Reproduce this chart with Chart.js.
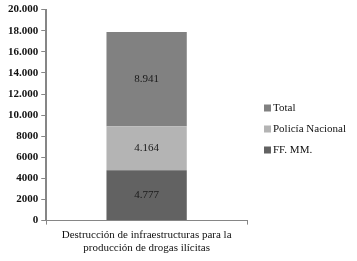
<!DOCTYPE html>
<html>
<head>
<meta charset="utf-8">
<script src="https://cdn.jsdelivr.net/npm/chart.js@4/dist/chart.umd.min.js"></script>
<style>
  html, body { margin: 0; padding: 0; background: #fff; }
  #wrap { width: 357px; height: 261px; }
</style>
</head>
<body>
<div id="wrap"><canvas id="chart" width="357" height="261"></canvas></div>
<script>
const categories = [["Destrucción de infraestructuras para la", "producción de drogas ilícitas"]];
const ffmm = [4777];
const policia = [4164];
const total = [8941];
const yTicks = [0, 2000, 4000, 6000, 8000, 10000, 12000, 14000, 16000, 18000, 20000];

const serif = "'Liberation Serif', 'DejaVu Serif', serif";

// labels inside each stacked segment
const segmentLabels = {
    id: 'segmentLabels',
    afterDatasetsDraw(chart) {
        const ctx = chart.ctx;
        ctx.save();
        ctx.font = "11px " + serif;
        ctx.fillStyle = "#1a1a1a";
        ctx.textAlign = "center";
        ctx.textBaseline = "middle";
        chart.data.datasets.forEach((ds, i) => {
            chart.getDatasetMeta(i).data.forEach((bar, j) => {
                const v = ds.data[j];
                const y = (bar.y + bar.base) / 2;
                ctx.fillText(v.toLocaleString('de-DE'), bar.x, y);
            });
        });
        ctx.restore();
    }
};

// legend on the right, top item = last dataset
const sideLegend = {
    id: 'sideLegend',
    afterDraw(chart) {
        const ctx = chart.ctx;
        const dsets = chart.data.datasets.slice().reverse();
        const x = 264, step = 21;
        let y = 108;
        ctx.save();
        ctx.font = "11px " + serif;
        ctx.textBaseline = "middle";
        ctx.textAlign = "left";
        dsets.forEach(ds => {
            ctx.fillStyle = ds.backgroundColor;
            ctx.fillRect(x, y - 3.5, 7, 7);
            ctx.fillStyle = "#111";
            ctx.fillText(ds.label, x + 9, y);
            y += step;
        });
        ctx.restore();
    }
};

new Chart(document.getElementById('chart').getContext('2d'), {
    type: 'bar',
    data: {
        labels: categories,
        datasets: [
            { label: 'FF. MM.', data: ffmm, backgroundColor: '#626262' },
            { label: 'Policía Nacional', data: policia, backgroundColor: '#b4b4b4' },
            { label: 'Total', data: total, backgroundColor: '#818181' }
        ]
    },
    options: {
        responsive: false,
        animation: false,
        layout: { padding: { top: 6, left: 5, right: 110, bottom: 2 } },
        datasets: { bar: { categoryPercentage: 1, barPercentage: 0.4 } },
        plugins: {
            tooltip: { enabled: false },
            legend: { display: false }
        },
        scales: {
            x: {
                stacked: true,
                grid: { display: true, drawOnChartArea: false, offset: true, tickLength: 4, color: '#868686' },
                border: { color: '#868686', width: 1 },
                ticks: { color: '#111', font: { family: serif, size: 11 }, padding: 4 }
            },
            y: {
                stacked: true,
                min: 0,
                max: 20000,
                afterBuildTicks(axis) { axis.ticks = yTicks.map(v => ({ value: v })); },
                grid: { display: true, drawOnChartArea: false, tickLength: 5, color: '#868686' },
                border: { color: '#868686', width: 2 },
                ticks: {
                    color: '#111',
                    padding: 3,
                    font: { family: serif, size: 11, weight: 'bold' },
                    callback: v => v >= 10000 ? v.toLocaleString('de-DE') : String(v)
                }
            }
        }
    },
    plugins: [segmentLabels, sideLegend]
});
</script>
</body>
</html>
